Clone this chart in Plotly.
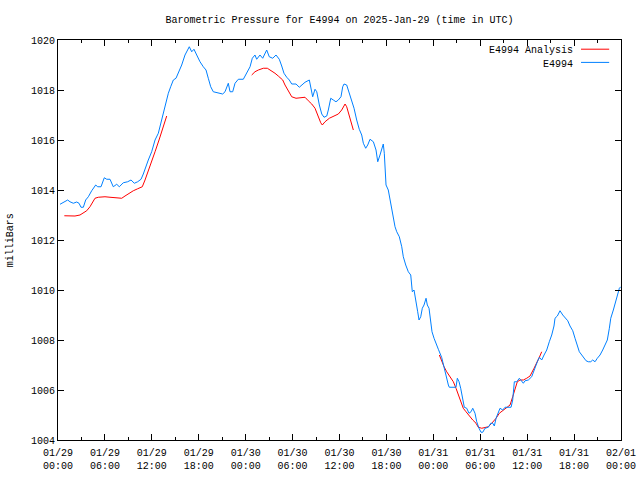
import pandas as pd
import plotly.graph_objects as go

# Hours since 2025-01-29 00:00 UTC and pressure (mbar) for observed series E4994
obs_hours = [0.26, 0.68, 1.24, 1.53, 1.96, 2.39, 2.69, 2.94, 3.24, 3.54, 3.88, 4.31, 4.82, 5.08, 5.50,
             5.92, 6.23, 6.65, 7.07, 7.51, 7.84, 8.35, 8.91, 9.34, 9.76, 10.19, 10.62, 10.91, 11.22,
             11.55, 11.98, 12.41, 12.83, 13.26, 13.47, 13.81, 14.11, 14.41, 14.75, 15.09, 15.39,
             15.82, 16.24, 16.54, 16.79, 17.10, 17.39, 17.74, 18.16, 18.58, 18.93, 19.22, 19.53,
             19.86, 20.30, 20.72, 21.06, 21.36, 21.78, 22.00, 22.34, 22.64, 23.06, 23.70, 24.13,
             24.56, 24.85, 25.19, 25.41, 25.83, 26.18, 26.69, 27.02, 27.46, 27.88, 28.30, 28.61,
             28.90, 29.25, 29.58, 29.89, 30.44, 30.86, 31.17, 31.59, 32.14, 32.32, 32.57, 32.87,
             33.09, 33.42, 33.73, 34.02, 34.37, 34.57, 34.88, 35.21, 35.55, 35.85, 36.19, 36.41,
             36.58, 36.92, 37.26, 37.56, 37.86, 38.20, 38.53, 38.84, 39.05, 39.35, 39.61, 39.90,
             40.33, 40.67, 40.89, 41.18, 41.60, 41.73, 41.82, 41.95, 42.24, 42.46, 42.68, 42.88,
             43.10, 43.32, 43.65, 43.96, 44.16, 44.47, 44.80, 45.11, 45.24, 45.31, 45.53, 45.79,
             46.00, 46.17, 46.39, 46.59, 46.81, 47.07, 47.23, 47.45, 47.67, 47.83, 48.09, 48.34,
             48.64, 49.07, 49.28, 49.49, 49.71, 49.92, 50.04, 50.90, 51.07, 51.29, 51.50, 51.76,
             51.96, 52.27, 52.56, 52.82, 53.04, 53.33, 53.55, 53.84, 54.10, 54.32, 54.61, 55.03,
             55.34, 55.60, 55.80, 56.02, 56.31, 56.53, 56.87, 57.17, 57.94, 58.15, 58.36, 58.67,
             59.00, 59.21, 59.51, 59.73, 60.15, 60.58, 61.00, 61.30, 61.56, 61.86, 62.16, 62.50,
             62.83, 63.14, 63.43, 63.56, 63.86, 64.20, 64.55, 64.84, 65.19, 65.48, 65.83, 66.12,
             66.42, 66.67, 66.98, 67.27, 67.53, 67.82, 68.13, 68.38, 68.68, 68.97, 69.32, 69.66,
             69.96, 70.25, 70.51, 70.69, 71.02, 71.28, 71.53, 71.79, 71.97]
obs_mbar = [1013.43, 1013.49, 1013.60, 1013.53, 1013.47, 1013.52, 1013.47, 1013.31, 1013.31, 1013.60,
            1013.73, 1013.97, 1014.20, 1014.13, 1014.13, 1014.49, 1014.43, 1014.43, 1014.13, 1014.23,
            1014.13, 1014.29, 1014.33, 1014.40, 1014.27, 1014.33, 1014.43, 1014.64, 1014.93, 1015.20,
            1015.53, 1016.00, 1016.27, 1016.80, 1017.13, 1017.53, 1017.87, 1018.13, 1018.40, 1018.47,
            1018.67, 1019.00, 1019.40, 1019.60, 1019.73, 1019.53, 1019.63, 1019.40, 1019.13, 1018.93,
            1018.80, 1018.47, 1018.13, 1017.93, 1017.89, 1017.87, 1017.84, 1017.93, 1018.27, 1017.93,
            1017.93, 1018.27, 1018.43, 1018.43, 1018.67, 1018.93, 1019.27, 1019.40, 1019.23, 1019.40,
            1019.27, 1019.60, 1019.33, 1019.27, 1019.40, 1019.23, 1018.96, 1018.67, 1018.51, 1018.40,
            1018.24, 1018.24, 1018.11, 1018.20, 1018.31, 1018.40, 1018.13, 1017.73, 1018.03, 1017.93,
            1017.40, 1017.04, 1016.91, 1016.96, 1017.20, 1017.67, 1017.60, 1017.53, 1017.60, 1017.73,
            1018.13, 1018.24, 1018.20, 1017.87, 1017.53, 1017.27, 1016.80, 1016.43, 1016.20, 1015.87,
            1015.67, 1015.80, 1016.03, 1015.93, 1015.60, 1015.13, 1015.40, 1015.84, 1015.47, 1014.67,
            1014.20, 1014.00, 1013.60, 1013.27, 1012.87, 1012.53, 1012.33, 1012.13, 1011.73, 1011.33,
            1011.00, 1010.73, 1010.60, 1010.27, 1009.93, 1010.00, 1009.60, 1009.13, 1008.80, 1008.93,
            1009.27, 1009.40, 1009.67, 1009.40, 1009.27, 1008.80, 1008.33, 1008.07, 1007.84, 1007.63,
            1007.30, 1007.00, 1006.73, 1006.47, 1006.20, 1006.11, 1006.11, 1006.47, 1006.33, 1006.07,
            1005.60, 1005.31, 1005.27, 1005.07, 1005.13, 1005.27, 1005.07, 1004.73, 1004.47, 1004.31,
            1004.31, 1004.47, 1004.51, 1004.67, 1004.67, 1004.56, 1004.87, 1005.13, 1005.27, 1005.20,
            1005.31, 1005.31, 1005.60, 1006.33, 1006.33, 1006.47, 1006.40, 1006.27, 1006.37, 1006.40,
            1006.53, 1006.93, 1007.13, 1007.31, 1007.20, 1007.40, 1007.60, 1007.93, 1008.20, 1008.56,
            1008.87, 1008.96, 1009.17, 1009.00, 1008.91, 1008.77, 1008.56, 1008.37, 1008.07, 1007.71,
            1007.53, 1007.40, 1007.27, 1007.17, 1007.13, 1007.13, 1007.20, 1007.13, 1007.27, 1007.40,
            1007.60, 1007.80, 1008.00, 1008.47, 1008.87, 1009.20, 1009.47, 1009.73, 1010.07, 1010.13]

# Analysis series (three separate runs)
ana1_hours = [0.81, 1.32, 2.17, 2.81, 3.24, 3.67, 4.09, 4.39, 4.73, 5.15, 6.01, 6.65, 7.51, 8.15, 8.57,
              9.08, 9.63, 10.19, 10.78, 11.13, 11.55, 11.98, 12.41, 12.92, 13.34, 13.77, 13.90]
ana1_mbar = [1012.97, 1012.96, 1012.96, 1013.00, 1013.09, 1013.17, 1013.33, 1013.49, 1013.67, 1013.71,
             1013.73, 1013.71, 1013.67, 1013.67, 1013.76, 1013.87, 1013.97, 1014.05, 1014.13, 1014.40,
             1014.80, 1015.17, 1015.53, 1016.00, 1016.40, 1016.80, 1016.96]
ana2_hours = [24.77, 25.19, 25.62, 26.26, 26.77, 27.33, 27.75, 28.17, 28.74, 29.03, 29.45, 29.89, 30.44,
              31.17, 31.59, 32.01, 32.45, 32.87, 33.29, 33.60, 33.80, 34.15, 34.70, 35.30, 35.85,
              36.28, 36.71, 36.92, 37.13, 37.43, 37.77]
ana2_mbar = [1018.60, 1018.73, 1018.80, 1018.87, 1018.87, 1018.77, 1018.67, 1018.56, 1018.40, 1018.20,
             1017.97, 1017.73, 1017.67, 1017.71, 1017.71, 1017.57, 1017.44, 1017.27, 1016.93, 1016.69,
             1016.60, 1016.73, 1016.87, 1016.96, 1017.04, 1017.20, 1017.44, 1017.33, 1017.07, 1016.73,
             1016.40]
ana3_hours = [48.77, 49.07, 49.37, 49.71, 50.13, 50.56, 50.90, 51.20, 51.50, 51.83, 52.18, 52.60, 53.04,
              53.46, 53.75, 54.19, 54.74, 55.03, 55.47, 56.02, 56.44, 56.95, 57.39, 57.81, 58.15,
              58.45, 58.74, 59.09, 59.51, 59.94, 60.37, 60.88, 61.22, 61.56, 61.86]
ana3_mbar = [1007.40, 1007.13, 1006.93, 1006.73, 1006.53, 1006.33, 1006.07, 1005.80, 1005.57, 1005.27,
             1005.13, 1004.96, 1004.80, 1004.67, 1004.51, 1004.47, 1004.51, 1004.53, 1004.67, 1004.87,
             1005.07, 1005.20, 1005.31, 1005.40, 1005.73, 1006.07, 1006.33, 1006.40, 1006.40, 1006.47,
             1006.56, 1006.87, 1007.07, 1007.31, 1007.53]

base = pd.Timestamp("2025-01-29 00:00")


def to_time(hours):
    return [base + pd.Timedelta(hours=h) for h in hours]


ana_x, ana_y = [], []
for hs, vs in [(ana1_hours, ana1_mbar), (ana2_hours, ana2_mbar), (ana3_hours, ana3_mbar)]:
    ana_x += to_time(hs) + [None]
    ana_y += vs + [None]

RED = "#ff0000"
BLUE = "#0080ff"
FONT = "Liberation Mono, DejaVu Sans Mono, monospace"

fig = go.Figure()
fig.add_trace(go.Scatter(x=ana_x, y=ana_y, mode="lines", name="E4994 Analysis",
                         line=dict(color=RED, width=1), connectgaps=False))
fig.add_trace(go.Scatter(x=to_time(obs_hours), y=obs_mbar, mode="lines", name="E4994",
                         line=dict(color=BLUE, width=1)))

axis_common = dict(showline=True, linecolor="black", linewidth=1, mirror="allticks",
                   ticks="inside", tickcolor="black", tickwidth=1, showgrid=False,
                   zeroline=False, automargin=False,
                   tickfont=dict(family=FONT, size=10, color="black"))

fig.update_xaxes(type="date", range=["2025-01-29 00:00", "2025-02-01 00:00"],
                 tick0="2025-01-29 00:00", dtick=6 * 3600 * 1000, ticklen=6,
                 tickformat="%m/%d<br>%H:%M", ticklabelstandoff=3,
                 minor=dict(dtick=3 * 3600 * 1000, ticks="inside", ticklen=3,
                            tickcolor="black", showgrid=False),
                 **axis_common)
fig.update_yaxes(range=[1004, 1020], dtick=2, ticklen=6, **axis_common)

# y-axis title
fig.add_annotation(x=-0.085, y=0.5, xref="paper", yref="paper", text="milliBars",
                   textangle=-90, showarrow=False, xanchor="center", yanchor="middle",
                   font=dict(family=FONT, size=10, color="black"))

# gnuplot-style legend (text right-aligned, sample line to the right)
legend_items = [("E4994 Analysis", RED, 0.977, 0.973), ("E4994", BLUE, 0.944, 0.940)]
for label, color, yline, ytext in legend_items:
    fig.add_annotation(x=0.918, y=ytext, xref="paper", yref="paper", text=label, showarrow=False,
                       xanchor="right", yanchor="middle",
                       font=dict(family=FONT, size=10, color="black"))
    fig.add_shape(type="line", xref="paper", yref="paper", x0=0.929, x1=0.979, y0=yline, y1=yline,
                  line=dict(color=color, width=1))

fig.update_layout(
    width=640, height=480,
    margin=dict(l=58, r=19, t=40, b=40, autoexpand=False),
    paper_bgcolor="white", plot_bgcolor="white",
    showlegend=False,
    title=dict(text="Barometric Pressure for E4994 on 2025-Jan-29 (time in UTC)",
               x=0.5, xref="paper", xanchor="center", y=1 - 19 / 480, yanchor="middle",
               font=dict(family=FONT, size=10, color="black")),
    font=dict(family=FONT, size=10, color="black"),
)

fig.write_html("out.html")
